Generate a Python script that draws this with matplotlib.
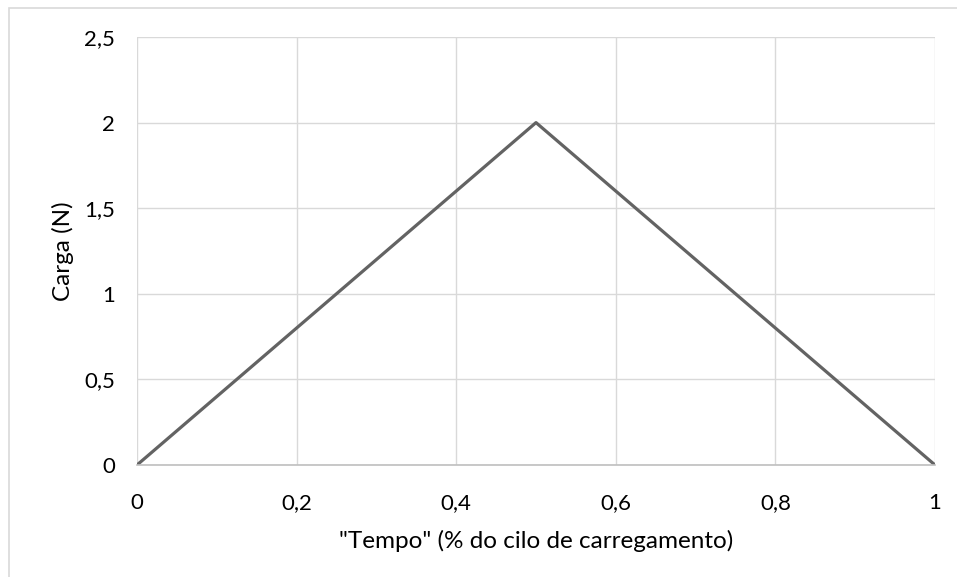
import matplotlib
matplotlib.use("Agg")
import matplotlib.pyplot as plt
from matplotlib.patches import Rectangle

x_vals = [0, 0.5, 1]
y_vals = [0, 2, 0]
x_ticks = [0, 0.2, 0.4, 0.6, 0.8, 1]
x_tick_labels = ["0", "0,2", "0,4", "0,6", "0,8", "1"]
y_ticks = [0, 0.5, 1, 1.5, 2, 2.5]
y_tick_labels = ["0", "0,5", "1", "1,5", "2", "2,5"]
x_label = '"Tempo" (% do cilo de carregamento)'
y_label = "Carga (N)"

plt.rcParams['font.family'] = ['Lato', 'DejaVu Sans']

W, H = 957, 577
fig = plt.figure(figsize=(W/100, H/100), dpi=100)
fig.patches.append(Rectangle((9/W, -0.1), 2, 1.1 - 8/H, transform=fig.transFigure,
                             fill=False, edgecolor='#d9d9d9', linewidth=1.2))

ax = fig.add_axes([137/W, 1 - 465/H, (935-137)/W, (465-37)/H])
ax.plot(x_vals, y_vals, color='#636363', linewidth=2.3, solid_capstyle='round')
ax.set_xlim(0, 1)
ax.set_ylim(0, 2.5)
ax.set_xticks(x_ticks)
ax.set_xticklabels(x_tick_labels)
ax.set_yticks(y_ticks)
ax.set_yticklabels(y_tick_labels)
ax.grid(True, color='#d9d9d9', linewidth=1.0)
ax.set_axisbelow(True)
for s in ['top', 'right', 'left']:
    ax.spines[s].set_visible(False)
ax.spines['bottom'].set_color('#bfbfbf')
ax.spines['bottom'].set_linewidth(1.2)
ax.tick_params(length=0, labelsize=16, colors='#000000')
ax.tick_params(axis='x', pad=20)
ax.tick_params(axis='y', pad=16)
ax.set_xlabel(x_label, fontsize=17.5)
ax.set_ylabel(y_label, fontsize=17.5)
ax.xaxis.set_label_coords(0.5, -(530 - 465) / 428)
ax.yaxis.set_label_coords((74 - 137) / 798, 0.5)

fig.savefig("out.png", dpi=100)
